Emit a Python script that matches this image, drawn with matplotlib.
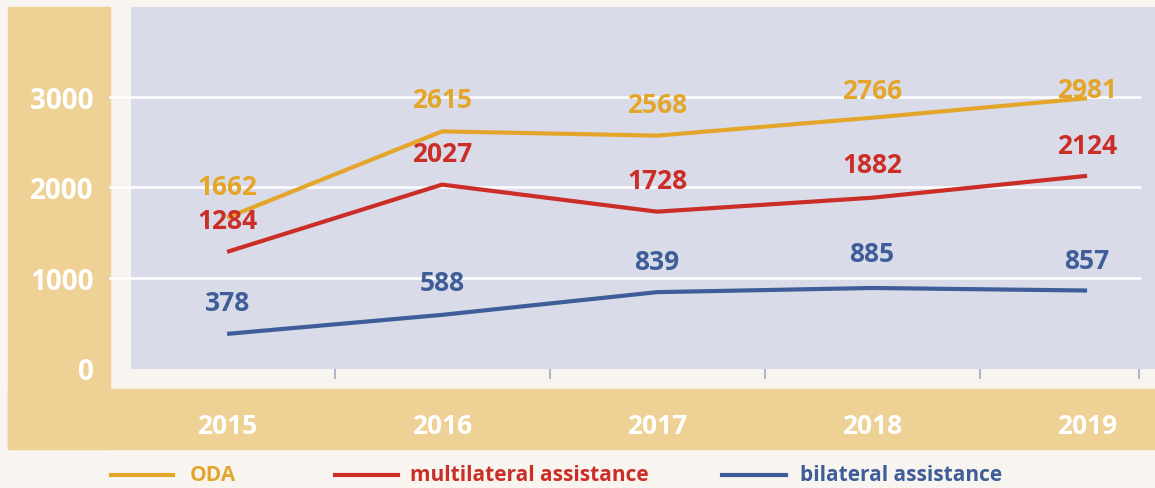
import numpy as np
import matplotlib.pyplot as plt
from matplotlib.lines import Line2D
from matplotlib.patches import Rectangle
import matplotlib.transforms as mtransforms

# Data
years = [2015, 2016, 2017, 2018, 2019]
oda = [1662, 2615, 2568, 2766, 2981]
multilateral = [1284, 2027, 1728, 1882, 2124]
bilateral = [378, 588, 839, 885, 857]
yticks = [0, 1000, 2000, 3000]
series_names = ["ODA", "multilateral assistance", "bilateral assistance"]

# Style
C_ODA = "#e3a62b"
C_MULTI = "#cb2d27"
C_BI = "#3f5d98"
C_PLOT = "#d9dbe8"
C_TAN = "#eed195"
C_BG = "#f8f5f0"
FONT = "Open Sans"

W, H = 1155, 489
fig = plt.figure(figsize=(W / 100, H / 100), dpi=100, facecolor=C_BG)


def fx(px):
    return px / W


def fy(py):
    return 1 - py / H


# tan frame on left and bottom
fig.patches.append(Rectangle((fx(8), fy(450)), fx(110 - 8), (450 - 8) / H,
                             transform=fig.transFigure, color=C_TAN, zorder=-5))
fig.patches.append(Rectangle((fx(8), fy(450)), fx(W - 8), (450 - 390) / H,
                             transform=fig.transFigure, color=C_TAN, zorder=-5))

ax = fig.add_axes([fx(131), fy(370), fx(W - 131), (370 - 8) / H])
ax.set_zorder(2)
ax.set_facecolor(C_PLOT)
for s in ax.spines.values():
    s.set_visible(False)

ax.set_xlim(2014.553, 2019.316)
ax.set_ylim(-10, 3989)

# grid lines reaching out to the tan column
trans = mtransforms.blended_transform_factory(ax.transAxes, ax.transData)
x0 = (110 - 131) / (W - 131)
x1 = (1140 - 131) / (W - 131)
for v in yticks[1:]:
    ax.plot([x0, x1], [v, v], transform=trans, color="white", lw=1.8,
            clip_on=False, zorder=1)

lw = 3.0
ax.plot(years, oda, color=C_ODA, lw=lw, zorder=3, solid_capstyle="butt")
ax.plot(years, multilateral, color=C_MULTI, lw=lw, zorder=3, solid_capstyle="butt")
ax.plot(years, bilateral, color=C_BI, lw=lw, zorder=3, solid_capstyle="butt")

# value labels (offsets in pixels, baseline)
oda_off = [-24, -24, -24, -20, -1]
multi_off = [-24, -24, -24, -26, -23]
bi_off = [-24, -25, -23, -27, -23]
for vals, offs, col in [(oda, oda_off, C_ODA), (multilateral, multi_off, C_MULTI),
                        (bilateral, bi_off, C_BI)]:
    for x, v, o in zip(years, vals, offs):
        ax.annotate(str(v), (x, v), xytext=(0, -o), textcoords="offset pixels",
                    ha="center", va="baseline", color=col, fontsize=19,
                    fontweight="bold", family=FONT, zorder=4)

# y ticks
ax.set_yticks(yticks)
ax.set_yticklabels([str(t) for t in yticks])
ax.tick_params(axis="y", length=0, pad=27, labelcolor="white", labelsize=20)

# x ticks: labels at years, small marks between them
ax.set_xticks(years)
ax.set_xticklabels([str(y) for y in years])
ax.tick_params(axis="x", which="major", length=0, pad=31, labelcolor="white",
               labelsize=19)
ax.set_xticks([2015.5, 2016.5, 2017.5, 2018.5, 2019.24], minor=True)
ax.tick_params(axis="x", which="minor", length=7.5, width=1.5, color="#b3b6ca",
               direction="out")
for lab in ax.get_xticklabels() + ax.get_yticklabels():
    lab.set_fontweight("bold")
    lab.set_family(FONT)

# legend drawn along the bottom
leg_lines = [(111, 173), (335, 398), (722, 786)]
leg_text_x = [190, 410, 800]
leg_y = 476
for (a, b), tx, name, col in zip(leg_lines, leg_text_x, series_names,
                                  [C_ODA, C_MULTI, C_BI]):
    fig.add_artist(Line2D([fx(a), fx(b)], [fy(leg_y), fy(leg_y)],
                          transform=fig.transFigure, color=col, lw=3))
    fig.text(fx(tx), fy(leg_y), name, color=col, fontsize=15, fontweight="bold",
             family=FONT, ha="left", va="center")

fig.savefig("out.png", dpi=100, facecolor=C_BG)
